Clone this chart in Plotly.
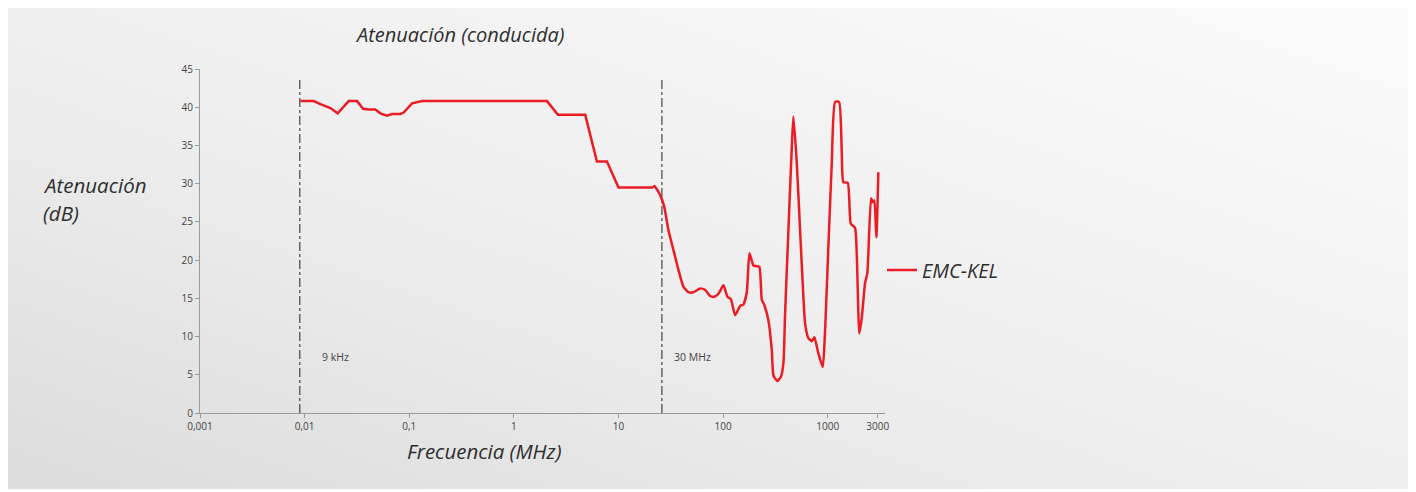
import math, base64
import plotly.graph_objects as go

# ---------------- data ----------------
freq_mhz = [0.0091, 0.01222, 0.01416, 0.0158, 0.01764, 0.01884, 0.02071, 0.02637, 0.03173,
            0.0362, 0.04095, 0.04746, 0.05297, 0.06137, 0.0685, 0.08222, 0.08841, 0.1063,
            0.1187, 0.1325, 2.071, 2.638, 4.808, 6.218, 7.748, 10.0, 21.31, 22.07, 25.02,
            27.32, 30.03, 33.52, 37.42, 41.77, 46.63, 52.04, 60.3, 67.31, 75.13, 82.04,
            90.19, 100.7, 109.9, 118.4, 130.2, 145.3, 156.2, 168.4, 178.3, 194.8, 209.9,
            222.2, 234.3, 248.1, 270.8, 291.9, 302.4, 330.1, 355.7, 376.6, 391.0, 420.5,
            453.1, 469.3, 505.7, 543.7, 584.7, 606.9, 652.6, 703.4, 744.7, 813.4, 896.1,
            942.7, 1013, 1092, 1174, 1282, 1361, 1409, 1553, 1658, 1823, 1892, 2003, 2112,
            2272, 2389, 2592, 2691, 2787, 2912, 3043]
atten_db = [40.8, 40.8, 40.4, 40.2, 39.9, 39.6, 39.2, 40.8, 40.8,
            39.8, 39.7, 39.7, 39.2, 38.9, 39.1, 39.1, 39.3, 40.5,
            40.7, 40.8, 40.8, 39.0, 39.0, 32.9, 32.9, 29.5, 29.5, 29.7, 28.5,
            27.0, 23.9, 21.3, 18.7, 16.5, 15.8, 15.8, 16.3, 16.1, 15.3, 15.2,
            15.6, 16.7, 15.2, 14.9, 12.8, 14.0, 14.2, 15.8, 20.9, 19.3, 19.2,
            19.1, 14.8, 14.1, 12.1, 8.2, 4.9, 4.2, 4.7, 6.5, 13.0, 23.9,
            34.8, 38.8, 32.7, 23.9, 15.2, 11.7, 9.8, 9.4, 9.9, 7.8, 6.0,
            10.8, 21.7, 32.7, 40.7, 40.7, 34.0, 30.2, 30.1, 24.8, 24.2, 20.9, 10.4, 12.4,
            17.0, 18.3, 28.1, 27.6, 27.8, 23.0, 31.5]
series_name = "EMC-KEL"
smooth_from_mhz = 21.31        # curve is smooth (spline) above this frequency

x_tickvals = [0.001, 0.01, 0.1, 1, 10, 100, 1000, 3000]
x_ticktext = ["0,001", "0,01", "0,1", "1", "10", "100", "1000", "3000"]
y_tickvals = [0, 5, 10, 15, 20, 25, 30, 35, 40, 45]

marker_freqs = [0.009, 26]
marker_labels = ["9 kHz", "30 MHz"]
marker_top = 43.8
marker_label_y = 7.3

title_text = "Atenuación (conducida)"
y_title_lines = ["Atenuación", "(dB)"]
x_title_text = "Frecuencia (MHz)"

# ---------------- layout geometry ----------------
OFF = 8                       # page body margin
W, H = 1416 - OFF, 492 - OFF
L, R, T, B = 200 - OFF, 531, 69 - OFF, 79
pw, ph = W - L - R, H - T - B

def px_x(p):                  # screen px -> paper x
    return (p - OFF - L) / pw

def px_y(p):                  # screen px -> paper y
    return (H - B - (p - OFF)) / ph

FONT = "Open Sans"
RED = "#ec1c24"
GRAY_AX = "#9a9a9a"
TXT = "#2e2e2e"

svg = f'''<svg xmlns="http://www.w3.org/2000/svg" width="{W}" height="{H}" preserveAspectRatio="none">
<defs><linearGradient id="g" x1="0" y1="1" x2="1" y2="0">
<stop offset="0" stop-color="#dcdcdc"/><stop offset="0.45" stop-color="#eeeeee"/>
<stop offset="1" stop-color="#fbfbfb"/></linearGradient></defs>
<rect x="0" y="0" width="{W}" height="{H}" fill="#ffffff"/>
<rect x="0" y="0" width="{W}" height="{H-3}" fill="url(#g)"/>
</svg>'''
bg_uri = "data:image/svg+xml;base64," + base64.b64encode(svg.encode()).decode()

fig = go.Figure()

for xv in marker_freqs:
    fig.add_trace(go.Scatter(x=[xv, xv], y=[0, marker_top], mode="lines",
                             line=dict(color="#222222", width=1, dash="dashdot"),
                             showlegend=False, hoverinfo="skip"))

split = freq_mhz.index(smooth_from_mhz)
fig.add_trace(go.Scatter(x=freq_mhz[:split + 1], y=atten_db[:split + 1], mode="lines",
                         name=series_name, legendgroup="s", showlegend=True,
                         line=dict(color=RED, width=2.5)))
fig.add_trace(go.Scatter(x=freq_mhz[split:], y=atten_db[split:], mode="lines",
                         name=series_name, legendgroup="s", showlegend=False,
                         line=dict(color=RED, width=2.5, shape="spline", smoothing=0.5)))

annotations = [
    dict(text=f"<i>{title_text}</i>", xref="paper", yref="paper",
         x=px_x(460), y=px_y(34), xanchor="center", yanchor="middle",
         showarrow=False, font=dict(family=FONT, size=20, color=TXT)),
    dict(text=f"<i>{x_title_text}</i>", xref="paper", yref="paper",
         x=px_x(484), y=px_y(451), xanchor="center", yanchor="middle",
         showarrow=False, font=dict(family=FONT, size=20.5, color=TXT)),
]
for i, line in enumerate(y_title_lines):
    annotations.append(dict(text=f"<i>{line}</i>", xref="paper", yref="paper",
                            x=px_x(41), y=px_y(185 + 28 * i), xanchor="left",
                            yanchor="middle", showarrow=False,
                            font=dict(family=FONT, size=20.5, color=TXT)))
shifts = [20, 10]
for xv, lab, sh in zip(marker_freqs, marker_labels, shifts):
    annotations.append(dict(text=lab, xref="x", yref="y", x=math.log10(xv),
                            y=marker_label_y, xanchor="left", yanchor="middle",
                            xshift=sh, showarrow=False,
                            font=dict(family=FONT, size=10.5, color="#444444")))

fig.update_layout(
    width=W, height=H,
    margin=dict(l=L, r=R, t=T, b=B, pad=0),
    paper_bgcolor="#ececec", plot_bgcolor="rgba(0,0,0,0)",
    images=[dict(source=bg_uri, xref="paper", yref="paper",
                 x=-L / pw, y=1 + T / ph, sizex=W / pw, sizey=H / ph,
                 xanchor="left", yanchor="top", sizing="stretch", layer="below")],
    annotations=annotations,
    showlegend=True,
    legend=dict(x=px_x(882), y=px_y(270), xanchor="left", yanchor="middle",
                bgcolor="rgba(0,0,0,0)", itemwidth=30,
                font=dict(family=FONT, size=20, color=TXT, style="italic")),
    xaxis=dict(type="log", range=[-3, 3.547], tickvals=x_tickvals, ticktext=x_ticktext,
               showgrid=False, zeroline=False, showline=True, linecolor=GRAY_AX,
               linewidth=1, ticks="outside", ticklen=4, tickcolor=GRAY_AX,
               tickfont=dict(family=FONT, size=10, color="#444444")),
    yaxis=dict(range=[0, 45], tickvals=y_tickvals, showgrid=False, zeroline=False,
               showline=True, linecolor=GRAY_AX, linewidth=1, ticks="outside",
               ticklen=4, tickcolor=GRAY_AX,
               tickfont=dict(family=FONT, size=10, color="#444444")),
    font=dict(family=FONT),
)

fig.write_html("out.html")
